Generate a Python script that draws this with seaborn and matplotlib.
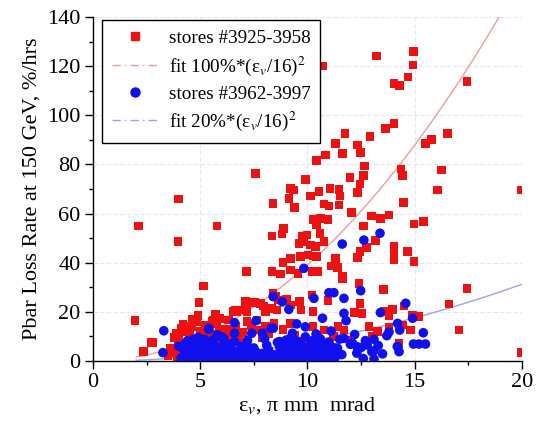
import numpy as np
import pandas as pd
import matplotlib
matplotlib.use("Agg")
import matplotlib.pyplot as plt
from matplotlib.lines import Line2D
from matplotlib.ticker import MultipleLocator
import seaborn as sns

# ---- data ----
red_x = [10.73, 13.21, 14.94, 14.91, 14.69, 14.03, 14.29, 17.43, 11.74, 13.64, 14.03, 16.53, 12.91, 15.79,
         11.31, 12.32, 11.62, 12.48, 10.84, 10.42, 7.57, 12.66, 9.91, 11.98, 12.60, 14.35, 14.42, 15.51,
         15.78, 16.25, 16.06, 19.95, 9.21, 9.36, 10.53, 10.14, 11.04, 11.46, 12.32, 11.51, 12.45, 9.13,
         8.40, 10.76, 11.00, 11.46, 9.39, 14.47, 12.04, 10.26, 10.61, 10.95, 10.42, 12.99, 13.41, 13.80,
         14.97, 15.40, 12.60, 8.89, 8.35, 9.75, 9.98, 10.58, 8.82, 9.60, 9.83, 10.14, 10.37, 10.76, 12.76,
         13.18, 14.03, 14.03, 14.03, 14.66, 14.97, 12.32, 12.45, 10.02, 9.67, 10.26, 10.42, 11.31, 11.11,
         11.39, 8.86, 9.21, 7.15, 8.35, 8.74, 9.21, 9.55, 10.22, 10.48, 11.62, 11.62, 12.40, 13.54, 17.43,
         5.16, 4.95, 7.10, 6.68, 7.18, 7.52, 7.80, 7.96, 8.40, 8.50, 8.66, 8.04, 8.35, 8.58, 9.02, 9.21,
         9.64, 9.70, 10.22, 10.26, 10.95, 12.45, 12.20, 12.55, 13.60, 13.96, 13.80, 14.50, 14.89, 15.20,
         16.60, 17.07, 1.96, 2.74, 2.35, 3.72, 3.88, 4.19, 4.61, 4.84, 5.23, 5.62, 5.75, 5.90, 6.32, 6.64,
         6.64, 7.18, 7.65, 8.04, 7.73, 8.43, 8.86, 9.21, 10.26, 10.76, 11.42, 11.70, 12.87, 13.26, 13.80,
         14.42, 14.81, 14.27, 13.02, 19.95, 3.99, 4.53, 4.22, 4.69, 3.91, 4.38, 2.12, 3.99, 3.96, 5.78,
         4.69, 5.55, 5.93, 3.91, 4.22, 2.79, 3.60, 6.56, 7.10, 6.79, 7.18, 6.32, 7.80,
         4.0, 4.3, 4.5, 4.8, 5.0, 5.3, 5.6, 4.1, 4.6, 5.8, 6.2, 6.8, 6.3, 3.9, 4.4, 5.1, 5.5, 7.0, 7.4,
         7.9, 8.2, 9.4, 9.8, 10.5, 11.2, 12.0, 3.5, 4.7,
         4.2, 4.9, 5.4, 5.7, 6.0, 3.8]
red_y = [120.1, 124.1, 125.9, 120.5, 115.5, 113.0, 112.2, 113.7, 92.7, 94.7, 96.7, 92.7, 91.3, 90.4,
         88.6, 87.9, 84.5, 84.8, 83.8, 81.5, 76.4, 79.4, 73.9, 74.6, 75.4, 78.1, 75.4, 88.6,
         89.9, 77.7, 69.6, 69.6, 70.3, 69.6, 68.9, 67.2, 70.3, 69.9, 68.6, 67.2, 72.0, 66.2,
         64.2, 63.9, 63.1, 63.5, 62.5, 64.4, 60.4, 57.7, 58.1, 57.7, 55.4, 59.0, 58.1, 59.4,
         55.8, 56.7, 54.9, 54.0, 50.9, 50.6, 51.3, 52.0, 51.7, 47.9, 48.6, 47.2, 46.5, 48.6, 46.3,
         49.0, 46.5, 43.1, 41.1, 44.5, 40.4, 42.2, 44.5, 43.1, 42.5, 42.7, 42.5, 41.8, 38.7,
         38.1, 40.0, 41.8, 36.4, 36.4, 35.4, 37.0, 35.7, 36.4, 36.4, 34.3, 33.6, 31.6, 29.2, 29.6,
         30.5, 23.7, 23.7, 20.1, 20.1, 23.7, 23.5, 22.4, 27.5, 26.2, 24.8, 20.1, 21.4, 20.8, 25.1, 22.8,
         24.1, 20.8, 26.9, 20.1, 24.6, 23.5, 19.7, 19.4, 20.1, 21.0, 18.3, 22.4, 18.7, 18.0,
         23.2, 12.6, 16.4, 7.6, 3.8, 5.2, 11.3, 11.9, 17.0, 16.0, 14.7, 16.7, 15.3, 12.9, 16.7, 20.8,
         14.0, 16.0, 16.7, 14.0, 12.6, 15.3, 12.9, 15.3, 14.0, 12.6, 14.0, 12.6, 14.0, 11.9, 13.7,
         14.7, 12.6, 7.2, 9.9, 3.4, 7.2, 8.5, 4.5, 3.1, 1.1, 1.1, 54.9, 65.9, 48.6, 54.9,
         17.0, 16.0, 17.4, 11.3, 11.9, 7.6, 5.2, 20.1, 24.1, 20.8, 16.0, 9.2, 23.5,
         9.0, 6.5, 10.5, 7.0, 12.0, 9.5, 11.0, 13.5, 14.0, 8.0, 10.0, 9.0, 13.0, 3.5, 2.5, 4.5, 6.0, 11.5, 14.5,
         9.5, 11.0, 10.5, 8.0, 9.5, 10.0, 8.5, 2.0, 5.0,
         15.0, 18.5, 13.0, 19.0, 11.5, 9.5]

blue_x = [4.1, 4.4, 4.7, 5.0, 5.3, 5.6, 5.9, 6.2, 6.5, 6.8, 7.1, 7.4, 7.7, 8.0, 8.3, 8.6, 8.9, 9.2, 9.5,
          9.8, 10.1, 10.4, 10.7, 11.0, 11.3, 12.6, 13.1,
          4.3, 4.6, 4.9, 5.2, 5.5, 5.8, 6.1, 6.4, 6.7, 7.0, 7.3, 7.6, 7.9, 8.2, 8.5, 8.8, 9.1, 9.4, 9.7,
          10.0, 10.3, 10.6, 10.9, 11.2, 11.6, 12.3, 13.0, 13.5,
          4.5, 4.8, 5.1, 5.4, 5.7, 6.0, 6.3, 6.9, 7.5, 8.1, 8.7, 9.0, 9.3, 9.6, 9.9, 10.2, 10.5, 10.8,
          11.1, 11.4, 12.0, 12.5, 13.3, 14.2,
          4.4, 4.9, 5.2, 5.6, 6.1, 6.6, 7.2, 8.7, 9.2, 9.5, 9.9, 10.3, 10.6, 11.0, 11.5, 12.1, 12.7,
          13.1, 13.7,
          3.3, 5.4, 5.8, 6.6, 7.4, 7.9, 8.3, 9.3, 9.9, 10.4, 11.1, 12.2, 13.8, 14.3, 15.4, 14.2,
          5.4, 6.6, 7.6, 9.5, 10.7, 11.8, 11.7, 13.4, 14.9, 8.4,
          8.40, 8.82, 9.13, 14.58, 11.70, 12.48, 11.00, 11.23, 9.83, 11.62, 12.63, 13.38, 10.30,
          14.94, 15.2, 15.5, 14.19, 14.27, 13.1, 12.78, 12.31, 12.08, 11.70, 3.26,
          4.6, 5.0, 5.3, 5.7, 6.0, 6.3, 4.8, 5.5, 6.2, 5.1,
          9.0, 9.3, 9.6, 10.0, 10.3, 10.7, 11.0, 9.8, 10.5, 9.4,
          4.2, 4.5, 4.9, 5.2, 5.5, 5.8, 6.1, 6.4, 4.3, 4.7, 5.1, 5.4, 5.9, 6.3, 6.7, 7.2, 7.7, 8.1,
          8.6, 9.1, 9.7, 10.2, 10.6, 10.9, 11.3, 4.0, 6.0, 7.0, 8.0, 9.0]
blue_y = [1.2, 0.8, 1.5, 0.6, 1.9, 1.1, 0.7, 1.4, 0.9, 1.6, 0.5, 1.3, 0.8, 1.7, 1.0, 0.6, 1.4, 1.2, 0.9,
          1.8, 0.7, 1.3, 1.1, 0.6, 1.5, 1.0, 0.8,
          3.2, 2.7, 4.1, 3.5, 2.9, 4.4, 3.1, 2.6, 3.8, 4.2, 2.8, 3.6, 3.0, 4.3, 2.5, 3.9, 3.3, 2.7, 4.0,
          3.4, 2.9, 4.4, 3.1, 3.7, 2.6, 3.2, 3.8, 2.9,
          5.8, 6.5, 5.2, 7.0, 6.1, 5.5, 6.8, 5.9, 5.3, 6.4, 5.7, 6.9, 5.1, 6.2, 5.6, 7.1, 5.4, 6.6,
          5.9, 5.2, 6.8, 5.5, 6.3, 5.9,
          8.2, 9.6, 8.8, 8.6, 9.1, 7.8, 8.4, 7.9, 9.3, 8.1, 9.8, 8.5, 9.0, 7.7, 8.9, 7.2, 8.3,
          8.8, 10.3,
          12.3, 12.9, 10.6, 11.3, 11.3, 11.3, 13.3, 11.3, 13.9, 11.0, 12.2, 10.8, 11.8, 12.6, 11.5, 15.3,
          13.3, 15.6, 16.4, 15.1, 17.4, 16.4, 19.4, 19.7, 17.4, 13.3,
          26.2, 24.1, 21.0, 23.5, 25.5, 28.6, 27.8, 27.8, 37.7, 47.6, 49.2, 52.0, 25.5,
          6.9, 6.9, 6.9, 5.9, 3.8, 4.2, 6.5, 5.8, 7.2, 9.2, 3.4,
          2.0, 1.0, 4.8, 2.2, 3.8, 1.6, 7.3, 0.4, 4.6, 7.8,
          2.1, 5.0, 0.5, 1.2, 6.0, 2.3, 4.8, 3.0, 7.5, 6.9,
          5.0, 3.8, 2.4, 6.2, 4.0, 1.8, 8.4, 5.6, 7.0, 8.9, 3.0, 2.2, 5.0, 4.0, 2.0, 6.3, 2.2, 1.5,
          7.6, 4.1, 6.4, 8.1, 3.7, 1.8, 5.3, 6.0, 9.8, 3.2, 9.0, 8.5]

labels = ["stores #3925-3958", "fit 100%*(ε$_v$/16)$^2$",
          "stores #3962-3997", "fit 20%*(ε$_v$/16)$^2$"]
fit_amp = [100, 20]      # percent
fit_ref = 16.0           # normalisation emittance

# ---- styling ----
sns.set_theme(style="ticks")
plt.rcParams["font.family"] = ["Liberation Serif", "DejaVu Serif"]
plt.rcParams["mathtext.fontset"] = "stix"

RED = "#ee1111"
BLUE = "#1010ee"
RED_FIT = "#f29a9a"
BLUE_FIT = "#a0a0f0"

fig = plt.figure(figsize=(5.37, 4.33), dpi=100)
ax = fig.add_axes([0.1732, 0.1663, 0.7988, 0.7944])

# grid
for v in [5, 10, 15, 20]:
    ax.axvline(v, color="#e4e7f0", lw=0.8, ls=(0, (4, 2)), zorder=0)
for v in [20, 40, 60, 80, 100, 120, 140]:
    ax.axhline(v, color="#e4e7f0", lw=0.8, ls=(0, (4, 2)), zorder=0)

# fit curves
xf = np.linspace(2.0, 20.0, 200)
fit_df = pd.DataFrame({"x": np.concatenate([xf, xf]),
                       "y": np.concatenate([fit_amp[0] * (xf / fit_ref) ** 2,
                                            fit_amp[1] * (xf / fit_ref) ** 2]),
                       "fit": ["r"] * len(xf) + ["b"] * len(xf)})
sns.lineplot(data=fit_df, x="x", y="y", hue="fit", palette={"r": RED_FIT, "b": BLUE_FIT},
             lw=1.0, ax=ax, legend=False, zorder=1)

red_df = pd.DataFrame({"x": red_x, "y": red_y})
blue_df = pd.DataFrame({"x": blue_x, "y": blue_y})
sns.scatterplot(data=red_df, x="x", y="y", marker="s", s=38, color=RED, edgecolor="none",
                ax=ax, zorder=2, legend=False)
sns.scatterplot(data=blue_df, x="x", y="y", marker="o", s=48, color=BLUE, edgecolor="none",
                ax=ax, zorder=3, legend=False)

ax.set_xlim(0, 20)
ax.set_ylim(0, 140)
ax.xaxis.set_major_locator(MultipleLocator(5))
ax.xaxis.set_minor_locator(MultipleLocator(2.5))
ax.yaxis.set_major_locator(MultipleLocator(20))
ax.yaxis.set_minor_locator(MultipleLocator(10))
ax.tick_params(which="major", direction="out", length=6, width=1, labelsize=16, color="black",
               labelcolor="black", pad=3)
ax.tick_params(which="minor", direction="out", length=3, width=1, color="black")
for side in ["top", "right"]:
    ax.spines[side].set_visible(False)
for side in ["left", "bottom"]:
    ax.spines[side].set_color("black")
    ax.spines[side].set_linewidth(1.0)

ax.set_xlabel("ε$_v$, π mm  mrad", fontsize=16, color="black", labelpad=2)
ax.set_ylabel("Pbar Loss Rate at 150 GeV, %/hrs", fontsize=16, color="black", labelpad=4)

handles = [
    Line2D([], [], ls="none", marker="s", ms=6, color=RED),
    Line2D([], [], ls=(0, (6, 3, 1, 3)), lw=1.0, color=RED_FIT),
    Line2D([], [], ls="none", marker="o", ms=6.5, color=BLUE),
    Line2D([], [], ls=(0, (6, 3, 1, 3)), lw=1.0, color=BLUE_FIT),
]
leg = ax.legend(handles, labels, loc="upper left", bbox_to_anchor=(0.021, 0.991),
                fontsize=13.8, frameon=True, fancybox=False, framealpha=1,
                edgecolor="black", labelspacing=0.38, handlelength=2.4, handletextpad=0.6,
                borderpad=0.5, borderaxespad=0)
leg.get_frame().set_linewidth(1.0)
for t in leg.get_texts():
    t.set_color("black")

fig.savefig("out.png", dpi=100)
